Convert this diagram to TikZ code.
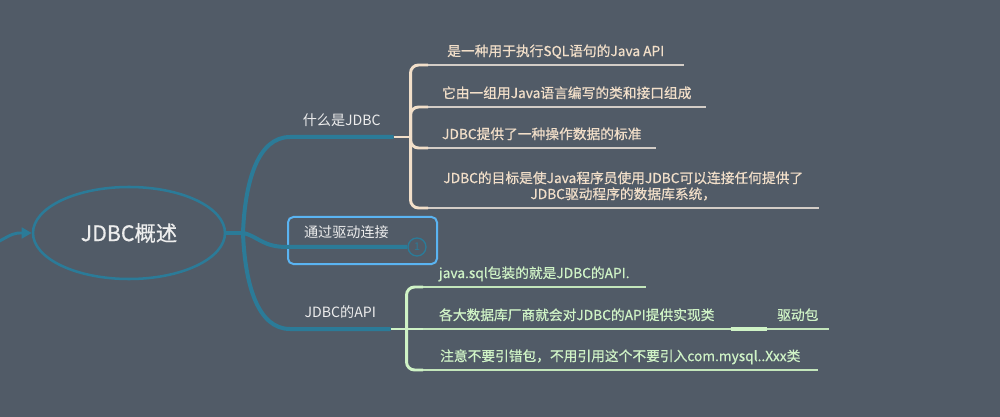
\documentclass[tikz,border=0pt]{standalone}
\usepackage{fontspec}
\setmainfont{Noto Sans CJK SC}
\newfontfamily\heavyface[FakeBold=0.6]{Noto Sans CJK SC}
\usepackage{tikz}
\definecolor{boardgray}{HTML}{515B67}
\definecolor{branchteal}{HTML}{2B7B98}
\definecolor{leafbeige}{HTML}{F2DFC9}
\definecolor{linebeige}{HTML}{D3CDC7}
\definecolor{leafgreen}{HTML}{CFF3C6}
\definecolor{linegreen}{HTML}{C3E6BB}
\definecolor{frameblue}{HTML}{5AB4F2}
\definecolor{labelwhite}{HTML}{EDEDED}
\tikzset{
  root_font/.style = {font=\heavyface\fontsize{16}{19}\selectfont},
  branch_font/.style = {font=\fontsize{10.6}{13}\selectfont},
  leaf_font/.style = {font=\heavyface\fontsize{10.3}{12}\selectfont},
  count_font/.style = {font=\fontsize{8}{9}\selectfont}
}
\tikzset{
  underlined/.style = {append after command={
    (\tikzlastnode.south west) edge[draw=#1, line width=1.1pt] (\tikzlastnode.south east)}},
  root/.style = {ellipse, draw=branchteal, line width=1.9pt, minimum width=144pt,
    minimum height=69pt, inner sep=0, root_font, text=labelwhite},
  branch/.style = {branch_font, text=labelwhite, anchor=south west, align=center,
    inner xsep=0, inner ysep=6pt, text height=7.5pt, text depth=2.5pt},
  framed_branch/.style = {branch_font, text=labelwhite, anchor=north west, align=left,
    draw=frameblue, line width=1.5pt, rounded corners=4pt, text width=87.75pt,
    inner xsep=12pt, inner ysep=0, text height=15.75pt, text depth=19.5pt},
  fold_count/.style = {circle, draw=branchteal, line width=1pt, minimum size=13.5pt,
    inner sep=0, count_font, text=branchteal},
  leaf/.style = {leaf_font, anchor=south west, align=center, inner xsep=7.5pt,
    inner ysep=4pt, text height=7.5pt, text depth=2.5pt},
  beige_leaf/.style = {leaf, text=leafbeige, underlined=linebeige},
  green_leaf/.style = {leaf, text=leafgreen, underlined=linegreen}
}
\tikzset{
  trunk/.style = {draw=branchteal, line width=3pt},
  beige_bracket/.style = {draw=leafbeige, line width=2.2pt, rounded corners=6pt},
  green_bracket/.style = {draw=leafgreen, line width=2.2pt, rounded corners=6pt}
}
\usetikzlibrary{shapes, arrows.meta, positioning, calc}

\begin{document}
\begin{tikzpicture}[x=0.75pt, y=-0.75pt]
    \path[use as bounding box, fill=boardgray] (0,0) rectangle (1000,417);

    % Root
    \node[root] at (129,233) (jdbc) {JDBC概述};
    \coordinate (feed) at (-4,243);
    \coordinate (hub) at (243,233);

    % Branches
    \node[branch, minimum width=77.25pt] at (290,137) (what_is) {什么是JDBC};
    \node[framed_branch] at (287,216) (via_driver) {通过驱动连接};
    \node[fold_count] at (417,247) (via_driver_fold) {1};
    \node[branch, minimum width=75pt] at (290,329) (api) {JDBC的API};

    % Leaves of what_is
    \node[beige_leaf, minimum width=191.25pt] at (428,65) (what_is_1) {
        是一种用于执行SQL语句的Java API};
    \node[beige_leaf, minimum width=207.75pt] at (428,107) (what_is_2) {
        它由一组用Java语言编写的类和接口组成};
    \node[beige_leaf, minimum width=170.25pt] at (428,148) (what_is_3) {
        JDBC提供了一种操作数据的标准};
    \node[beige_leaf, minimum width=292.5pt] at (428,208) (what_is_4) {
        JDBC的目标是使Java程序员使用JDBC可以连接任何提供了 \\
        JDBC驱动程序的数据库系统，};

    % Leaves of api
    \node[green_leaf, minimum width=166.5pt] at (423,287) (api_1) {
        java.sql包装的就是JDBC的API.};
    \node[green_leaf, minimum width=230.25pt] at (423,329) (api_2) {
        各大数据库厂商就会对JDBC的API提供实现类};
    \node[green_leaf, minimum width=45pt] at (767,329) (api_2_1) {驱动包};
    \node[green_leaf, minimum width=295.5pt] at (423,370) (api_3) {
        注意不要引错包，不用引用这个不要引入com.mysql..Xxx类};

    % Arrows and lines
    \draw[trunk, line width=2.2pt, -{Triangle[length=7.5pt, width=8pt]}]
        (feed) .. controls (14,233) .. (jdbc.west);
    \draw[trunk] (jdbc.east) -- (hub);
    \draw[trunk] (hub) .. controls (245,181) and (258,137) .. (what_is.south west)
        -- (what_is.south east);
    \draw[trunk] (hub) .. controls (258,236) and (262,247) .. (via_driver.west |- via_driver_fold)
        -- (via_driver_fold.west);
    \draw[trunk] (hub) .. controls (245,285) and (258,329) .. (api.south west)
        -- (api.south east);

    \draw[beige_bracket] (what_is.south east) -- ++(17,0) coordinate (what_is_fork);
    \foreach \leaf in {1,...,4}
        \draw[beige_bracket] (what_is_fork) |- (what_is_\leaf.south west);

    \draw[green_bracket] (api.south east) -- ++(16,0) coordinate (api_fork);
    \draw[green_bracket] (api_fork) -- (api_2.south west);
    \foreach \leaf in {1,3}
        \draw[green_bracket] (api_fork) |- (api_\leaf.south west);
    \draw[green_bracket, line width=3pt] (api_2.south east) -- (api_2_1.south west);
\end{tikzpicture}
\end{document}
